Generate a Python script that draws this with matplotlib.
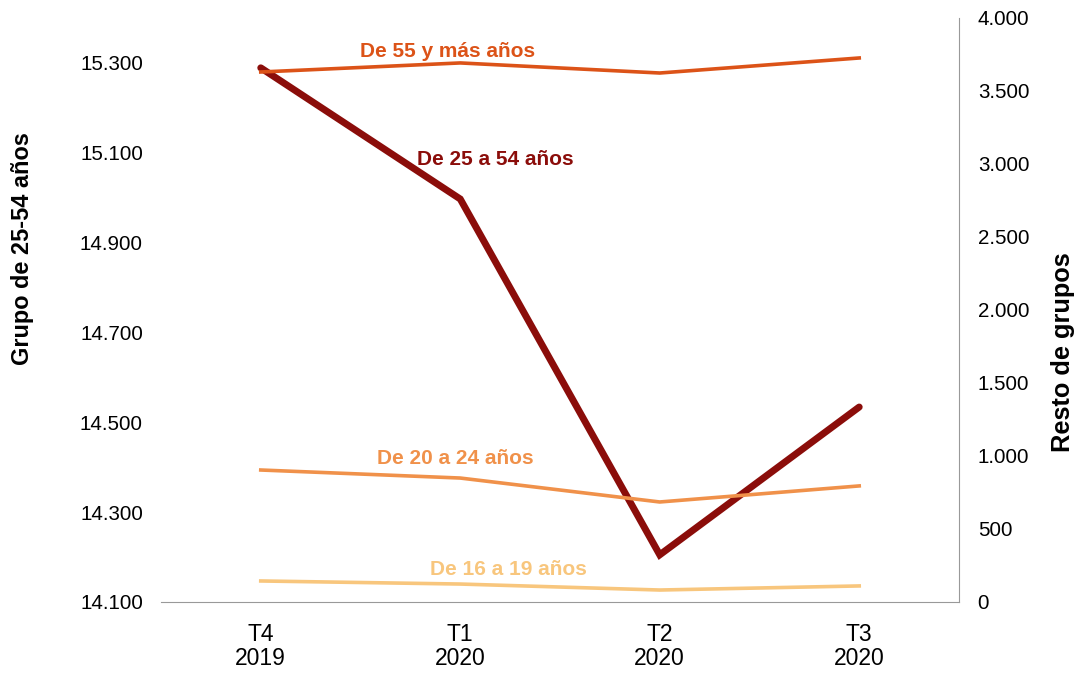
import matplotlib
matplotlib.use("Agg")
import matplotlib.pyplot as plt

plt.rcParams['font.family'] = ['Liberation Sans', 'DejaVu Sans']

# data
periodos = ["T4\n2019", "T1\n2020", "T2\n2020", "T3\n2020"]
grupo_25_54 = [15289, 14997, 14205, 14534]      # left axis
grupo_55_mas = [3630, 3692, 3623, 3726]         # right axis
grupo_20_24 = [904, 849, 685, 795]
grupo_16_19 = [144, 123, 82, 110]

c_25 = "#8B0D0A"
c_55 = "#DC5318"
c_20 = "#F0914A"
c_16 = "#F8C67D"

fig = plt.figure(figsize=(10.77, 6.73), dpi=100)
ax = fig.add_axes([0.1495, 0.1055, 0.7409, 0.8678])
ax2 = ax.twinx()

x = range(len(periodos))
ax.plot(x, grupo_25_54, color=c_25, lw=5, solid_capstyle="round", solid_joinstyle="miter")
ax2.plot(x, grupo_55_mas, color=c_55, lw=2.6)
ax2.plot(x, grupo_20_24, color=c_20, lw=2.6)
ax2.plot(x, grupo_16_19, color=c_16, lw=2.6)

ax.set_xlim(-0.5, 3.5)
ax.set_ylim(14100, 15400)
ax.set_yticks(range(14100, 15301, 200))
ax.set_yticklabels([f"{v:,}".replace(",", ".") for v in range(14100, 15301, 200)])
ax2.set_ylim(0, 4000)
ax2.set_yticks(range(0, 4001, 500))
ax2.set_yticklabels([f"{v:,}".replace(",", ".") for v in range(0, 4001, 500)])
ax.set_xticks(list(x))
ax.set_xticklabels(periodos, fontsize=16.5, linespacing=1.05)

for a in (ax, ax2):
    for s in ("top", "left", "right"):
        a.spines[s].set_visible(False)
    a.tick_params(length=0, colors="black")
ax2.spines["bottom"].set_visible(False)
ax2.spines["right"].set_visible(True)
ax2.spines["right"].set_color("#999999")
ax.spines["bottom"].set_color("#999999")
ax.tick_params(axis="y", pad=13, labelsize=14.8)
ax.tick_params(axis="x", pad=15)
ax2.tick_params(axis="y", pad=13.5, labelsize=14.8)

fig.text(23 / 1077, 1 - 249 / 673, "Grupo de 25-54 años", rotation=90,
         fontsize=16.9, fontweight="bold", ha="center", va="center")
fig.text(1063 / 1077, 1 - 352 / 673, "Resto de grupos", rotation=90,
         fontsize=18.3, fontweight="bold", ha="center", va="center")

lab = dict(fontsize=15, fontweight="bold", ha="center", va="center")
ax2.text(0.937, 3770, "De 55 y más años", color=c_55, **lab)
ax.text(1.174, 15085, "De 25 a 54 años", color=c_25, **lab)
ax2.text(0.977, 985, "De 20 a 24 años", color=c_20, **lab)
ax2.text(1.244, 225, "De 16 a 19 años", color=c_16, **lab)

fig.savefig("out.png", dpi=100)
